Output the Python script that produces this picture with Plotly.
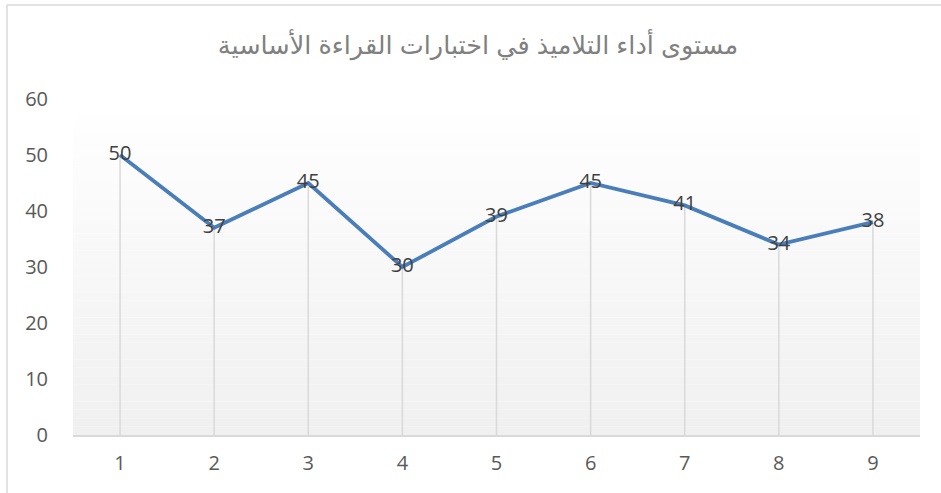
import plotly.graph_objects as go

categories = [1, 2, 3, 4, 5, 6, 7, 8, 9]
values = [50, 37, 45, 30, 39, 45, 41, 34, 38]
y_ticks = [0, 10, 20, 30, 40, 50, 60]
title_text = "مستوى أداء التلاميذ في اختبارات القراءة الأساسية"

W, H = 941, 493
L, R, T, B = 73, 21, 99, 58

fig = go.Figure()

# drop lines from each point to the axis
dx, dy = [], []
for c, v in zip(categories, values):
    dx += [c, c, None]
    dy += [0, v, None]
fig.add_trace(go.Scatter(x=dx, y=dy, mode="lines",
                         line=dict(color="#d9d9d9", width=1.5),
                         hoverinfo="skip", showlegend=False))

fig.add_trace(go.Scatter(x=categories, y=values, mode="lines+text",
                         text=[str(v) for v in values], textposition="middle center",
                         textfont=dict(family="Open Sans, DejaVu Sans", size=20, color="#404040"),
                         line=dict(color="#4a7ebb", width=3.8),
                         showlegend=False))

# gradient background for plot area
shapes = []
n = 40
for i in range(n):
    f = i / (n - 1)
    g = int(round(255 - (255 - 240) * f))
    col = f"rgb({g},{g},{g})"
    shapes.append(dict(type="rect", xref="paper", yref="paper",
                       x0=0, x1=1, y0=1 - (i + 1) / n, y1=1 - i / n,
                       fillcolor=col, line=dict(width=0), layer="below"))

pw, ph = W - L - R, H - T - B
bx = (7 - L) / pw
by = (H - B - 5) / ph
shapes.append(dict(type="line", xref="paper", yref="paper", x0=bx, x1=bx, y0=-1, y1=by,
                   line=dict(color="#d9d9d9", width=1.5)))
shapes.append(dict(type="line", xref="paper", yref="paper", x0=bx, x1=2, y0=by, y1=by,
                   line=dict(color="#d9d9d9", width=1.5)))

fig.update_layout(
    width=W, height=H,
    margin=dict(l=L, r=R, t=T, b=B),
    paper_bgcolor="white", plot_bgcolor="rgba(0,0,0,0)",
    title=dict(text=title_text, x=478 / W, xanchor="center", y=1 - 45 / H, yanchor="middle",
               font=dict(family="Arial, DejaVu Sans", size=25.5, color="#808080")),
    shapes=shapes,
    xaxis=dict(range=[0.5, 9.5], tickvals=categories, ticktext=[str(c) for c in categories],
               showgrid=False, zeroline=False, showline=True, linecolor="#d9d9d9", linewidth=1.5,
               ticks="outside", ticklen=9, tickcolor="rgba(0,0,0,0)",
               tickfont=dict(family="Open Sans, DejaVu Sans", size=20, color="#595959")),
    yaxis=dict(range=[0, 60], tickvals=y_ticks, showgrid=False, zeroline=False, showline=False,
               ticks="outside", ticklen=20, tickcolor="rgba(0,0,0,0)",
               tickfont=dict(family="Open Sans, DejaVu Sans", size=20, color="#595959")),
)

fig.write_html("out.html", config={"displayModeBar": False},
               post_script="document.body.style.margin='0';")
